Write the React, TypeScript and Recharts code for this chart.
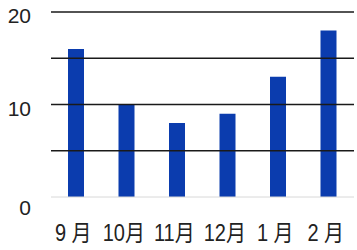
import React from "react";
import { BarChart, Bar, XAxis, YAxis, ReferenceLine } from "recharts";

const months = ["9 月", "10月", "11月", "12月", "1 月", "2 月"];
const values = [16, 10, 8, 9, 13, 18];
const yTicks = [0, 5, 10, 15, 20];
const yLabels = [0, 10, 20];
const gridLevels = [5, 10, 15, 20];

const data = months.map((m, i) => ({ month: m, value: values[i] }));

const FONT = "'Liberation Sans', 'Noto Sans CJK JP', sans-serif";

const YTick = (props: any) => {
  const { y, payload } = props;
  const v = payload.value;
  if (!yLabels.includes(v)) return null;
  const dy = v === 0 ? 18 : 11;
  return (
    <text x={31} y={y + dy} textAnchor="end" fontSize={21} fill="#222" fontFamily={FONT}>
      {v}
    </text>
  );
};

const XTick = (props: any) => {
  const { x, y, payload } = props;
  return (
    <g transform={`translate(${x - 3},${y + 36})`}>
      <text x={0} y={0} textAnchor="middle" fontSize={20} fill="#222" fontFamily={FONT} transform="scale(1,1.15)">
        {payload.value}
      </text>
    </g>
  );
};

export default function App() {
  return (
    <div style={{ position: "absolute", left: 0, top: 0, width: 357, height: 250, background: "#fff" }}>
      <BarChart width={357} height={250} data={data} margin={{ top: 12, right: 3, left: 0, bottom: 0 }}>
        <XAxis dataKey="month" axisLine={false} tickLine={false} height={53} tick={<XTick />} interval={0} />
        <YAxis
          domain={[0, 20]}
          ticks={yTicks}
          width={51}
          axisLine={false}
          tickLine={false}
          tick={<YTick />}
          interval={0}
        />
        <ReferenceLine y={0} stroke="#d8d8d8" strokeWidth={1} />
        {gridLevels.map((g) => (
          <ReferenceLine key={g} y={g} stroke="#1a1a1a" strokeWidth={1.6} />
        ))}
        <Bar dataKey="value" fill="#0b3cae" barSize={16} isAnimationActive={false} />
      </BarChart>
    </div>
  );
}
